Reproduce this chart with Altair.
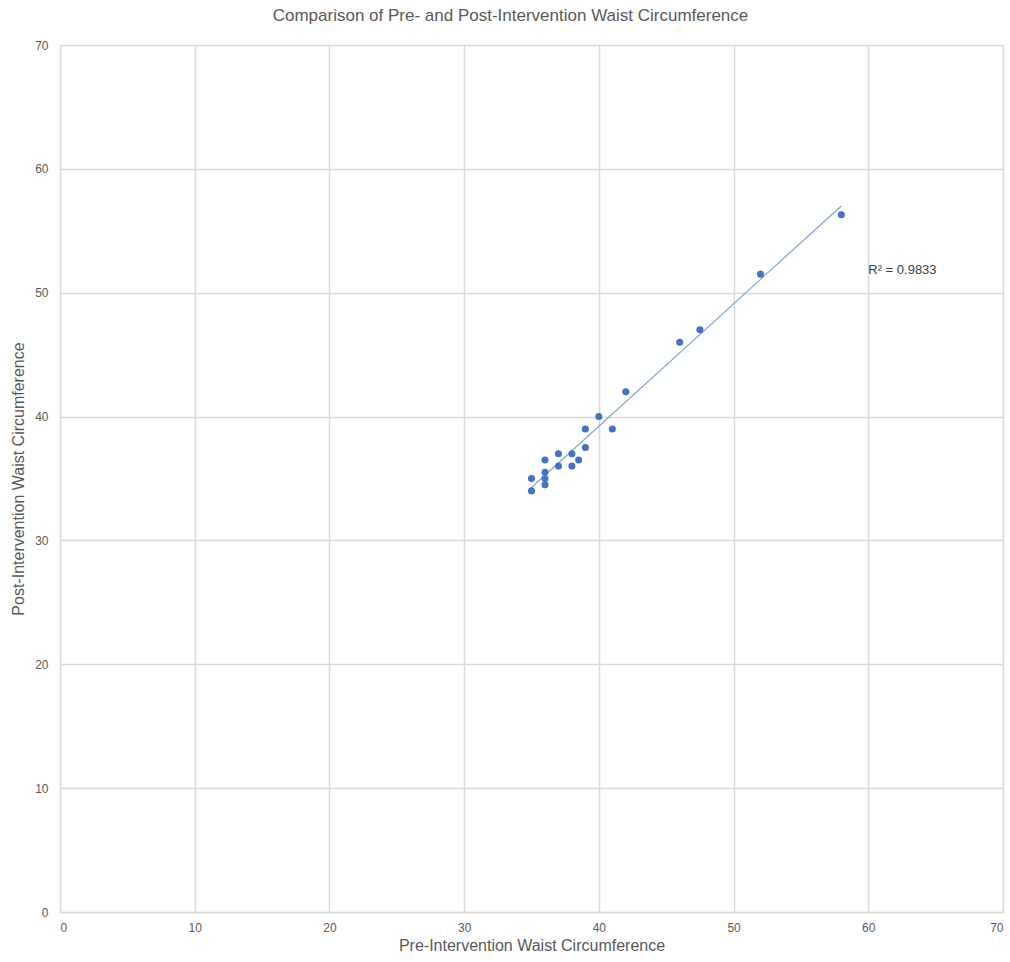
import altair as alt
import pandas as pd
import numpy as np

pre = [35, 35, 36, 36, 36, 36, 37, 37, 38, 38, 38.5, 39, 39, 40, 41, 42, 46, 47.5, 52, 58]
post = [35, 34, 36.5, 35.5, 35, 34.5, 37, 36, 37, 36, 36.5, 39, 37.5, 40, 39, 42, 46, 47, 51.5, 56.3]
r2_label = "R² = 0.9833"
ticks = [0, 10, 20, 30, 40, 50, 60, 70]

df = pd.DataFrame({"pre": pre, "post": post})
slope, intercept = np.polyfit(pre, post, 1)
xs = [min(pre), max(pre)]
trend = pd.DataFrame({"pre": xs, "post": [slope * v + intercept for v in xs]})
lab = pd.DataFrame({"pre": [60], "post": [51.8], "t": [r2_label]})

FONT = "Liberation Sans"
GRAY = "#595959"

xsc = alt.Scale(domain=[0, 70], nice=False, zero=True)
ysc = alt.Scale(domain=[0, 70], nice=False, zero=True)

xaxis = alt.Axis(title="Pre-Intervention Waist Circumference", values=ticks, grid=True,
                 gridColor="#d9d9d9", gridWidth=1.5, domainColor="#d9d9d9", domainWidth=1.5,
                 ticks=False, labelPadding=10, labelFontSize=12, labelColor=GRAY,
                 titleFontSize=16, titleFontWeight="normal", titleColor=GRAY, titlePadding=4,
                 labelFont=FONT, titleFont=FONT)
yaxis = alt.Axis(title="Post-Intervention Waist Circumference", values=ticks, grid=True,
                 gridColor="#d9d9d9", gridWidth=1.5, domain=False,
                 ticks=False, labelPadding=12, labelFontSize=12, labelColor=GRAY,
                 titleFontSize=16, titleFontWeight="normal", titleColor=GRAY, titlePadding=8,
                 labelFont=FONT, titleFont=FONT)

points = alt.Chart(df).mark_circle(size=50, color="#4472C4", opacity=1).encode(
    x=alt.X("pre:Q", scale=xsc, axis=xaxis),
    y=alt.Y("post:Q", scale=ysc, axis=yaxis),
)
line = alt.Chart(trend).mark_line(color="#7da3d8", strokeWidth=1.2).encode(
    x=alt.X("pre:Q", scale=xsc), y=alt.Y("post:Q", scale=ysc)
)
text = alt.Chart(lab).mark_text(align="left", baseline="middle", fontSize=13, color="#404040", font=FONT).encode(
    x=alt.X("pre:Q", scale=xsc), y=alt.Y("post:Q", scale=ysc), text="t:N"
)

chart = (line + points + text).properties(
    width=943, height=867,
    title=alt.TitleParams("Comparison of Pre- and Post-Intervention Waist Circumference",
                          fontSize=17, fontWeight="normal", color=GRAY, font=FONT, offset=14, dx=-21),
    autosize=alt.AutoSizeParams(type="none"),
    padding={"left": 60, "top": 45, "right": 7, "bottom": 50},
).configure_view(stroke=None).configure(background="white")

chart.save("out.html", embed_options={"renderer": "svg", "actions": False})
